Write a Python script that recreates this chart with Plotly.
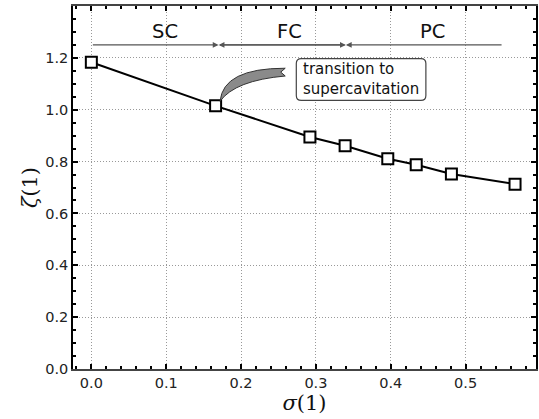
import plotly.graph_objects as go

sigma = [0.0, 0.166, 0.292, 0.339, 0.396, 0.434, 0.481, 0.566]
zeta = [1.183, 1.015, 0.895, 0.861, 0.811, 0.788, 0.752, 0.713]

regions = ["SC", "FC", "PC"]
region_bounds = [0.0, 0.17, 0.34, 0.55]
region_label_x = [0.098, 0.265, 0.456]
x_ticks = [0.0, 0.1, 0.2, 0.3, 0.4, 0.5]
y_ticks = [0.0, 0.2, 0.4, 0.6, 0.8, 1.0, 1.2]

fig = go.Figure()
fig.add_trace(go.Scatter(
    x=sigma, y=zeta, mode="lines+markers",
    line=dict(color="black", width=2),
    marker=dict(symbol="square", size=11, color="white",
                line=dict(color="black", width=2)),
    showlegend=False, cliponaxis=False))

arrow_y = 1.25
label_y = 1.302
annotations = []
for i, name in enumerate(regions):
    annotations.append(dict(x=region_label_x[i], y=label_y, text=name, showarrow=False,
                            font=dict(family="DejaVu Sans", size=19.5, color="#111"),
                            xref="x", yref="y"))
arrow_pairs = [(region_bounds[0], region_bounds[1]),
               (region_bounds[2], region_bounds[1]),
               (region_bounds[1], region_bounds[2]),
               (region_bounds[3], region_bounds[2])]
for tail, head in arrow_pairs:
    annotations.append(dict(x=head, y=arrow_y, ax=tail, ay=arrow_y, xref="x", yref="y",
                            axref="x", ayref="y", showarrow=True, arrowhead=2,
                            arrowsize=0.9, arrowwidth=1.3, arrowcolor="#555",
                            standoff=0, text=""))

annotations.append(dict(x=0.280, y=1.117, text="transition to<br>supercavitation",
                        showarrow=False, xanchor="left", yanchor="middle", align="left",
                        font=dict(family="DejaVu Sans", size=15, color="#111"),
                        xref="x", yref="y"))
fig.update_layout(annotations=annotations)

# rounded box around the note
bx0, bx1, by0, by1 = 0.2738, 0.4469, 1.036, 1.197
rx, ry = 0.0067, 0.019
box = (f"M {bx0+rx},{by0} L {bx1-rx},{by0} Q {bx1},{by0} {bx1},{by0+ry} "
       f"L {bx1},{by1-ry} Q {bx1},{by1} {bx1-rx},{by1} L {bx0+rx},{by1} "
       f"Q {bx0},{by1} {bx0},{by1-ry} L {bx0},{by0+ry} Q {bx0},{by0} {bx0+rx},{by0} Z")
fig.add_shape(type="path", path=box, xref="x", yref="y",
              line=dict(color="#444", width=1.2), fillcolor="white")

# curved wedge arrow pointing at the transition point
tx, ty = sigma[1] + 0.006, zeta[1] + 0.018
wedge = (f"M 0.259,1.160 Q 0.176,1.160 {tx},{ty} "
         f"Q 0.192,1.113 0.259,1.130 L 0.253,1.145 Z")
fig.add_shape(type="path", path=wedge, xref="x", yref="y",
              line=dict(color="#333", width=1), fillcolor="#8a8a8a")

axis_common = dict(ticks="inside", ticklen=5, tickwidth=1.5, tickcolor="black",
                   showgrid=True, gridcolor="#999999", griddash="1px,2px", gridwidth=1,
                   zeroline=False, showline=True, mirror="allticks",
                   tickfont=dict(family="DejaVu Sans", size=14.5, color="#222"))

fig.update_xaxes(range=[-0.0245, 0.594], tickvals=x_ticks, tickformat=".1f",
                 linecolor="#444", linewidth=2,
                 minor=dict(dtick=0.02, ticks="inside", ticklen=3, tickcolor="black",
                            showgrid=False),
                 title=dict(text="<i>σ</i>(1)", standoff=2,
                            font=dict(family="DejaVu Serif", size=21, color="#111")),
                 **axis_common)
fig.update_yaxes(range=[0, 1.4], tickvals=y_ticks, tickformat=".1f",
                 linecolor="black", linewidth=1.5,
                 minor=dict(dtick=0.05, ticks="inside", ticklen=3, tickcolor="black",
                            showgrid=False),
                 title=dict(text="<i>ζ</i>(1)", standoff=2,
                            font=dict(family="DejaVu Serif", size=21, color="#111")),
                 **axis_common)

fig.update_layout(width=539, height=419, margin=dict(l=73, r=1, t=6, b=50),
                  plot_bgcolor="white", paper_bgcolor="white")
fig.write_html("out.html")
